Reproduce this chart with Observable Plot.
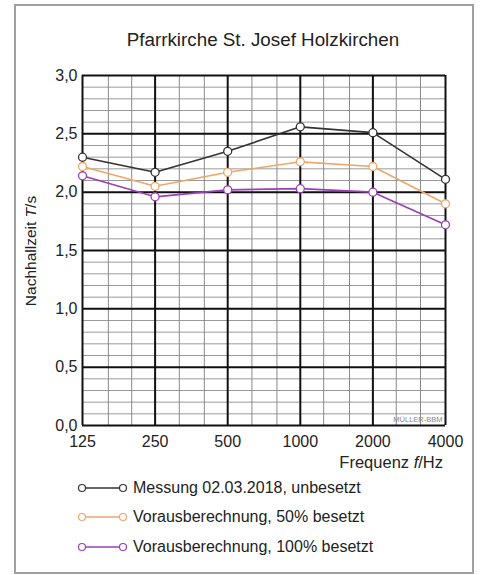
<!DOCTYPE html>
<html><head><meta charset="utf-8">
<script src="https://cdn.jsdelivr.net/npm/d3@7"></script>
<script src="https://cdn.jsdelivr.net/npm/@observablehq/plot@0.6"></script>
<style>
body{margin:0;background:#fff;font-family:"Liberation Sans",Arial,sans-serif;color:#222;}
#wrap{position:relative;width:482px;height:575px;overflow:hidden;}
#frame{position:absolute;left:14px;top:4px;width:456px;height:566px;border:2px solid #a0a0a0;}
#title{position:absolute;left:0;width:526px;top:29px;text-align:center;font-size:18.8px;line-height:22px;}
#chart{position:absolute;left:0;top:0;}
#ylab{position:absolute;left:31px;top:251px;transform:translate(-50%,-50%) rotate(-90deg);font-size:15.5px;white-space:nowrap;}
#xlab{position:absolute;right:39px;top:452px;font-size:16.5px;line-height:20px;white-space:nowrap;}
.leg{position:absolute;left:76px;font-size:16px;line-height:20px;white-space:nowrap;display:flex;align-items:center;}
.leg svg{margin-right:5px;}
</style></head>
<body><div id="wrap">
<div id="frame"></div>
<div id="chart"></div>
<div id="title">Pfarrkirche St. Josef Holzkirchen</div>
<div id="ylab">Nachhallzeit <i>T</i>/s</div>
<div id="xlab">Frequenz <i>f</i>/Hz</div>
<div id="legend"></div>
</div>
<script>
const freqs = [125, 250, 500, 1000, 2000, 4000];
const thirdOctaves = [160, 200, 315, 400, 630, 800, 1250, 1600, 2500, 3150];
const messung = [2.30, 2.17, 2.35, 2.56, 2.51, 2.11];
const voraus50 = [2.22, 2.05, 2.17, 2.26, 2.22, 1.90];
const voraus100 = [2.14, 1.96, 2.02, 2.03, 2.00, 1.72];
const yMajor = [0, 0.5, 1, 1.5, 2, 2.5, 3];
const yMinor = d3.range(0, 30).map(i => i / 10).filter(v => Math.round(v * 10) % 5 !== 0);
const seriesNames = ["Messung 02.03.2018, unbesetzt", "Vorausberechnung, 50% besetzt", "Vorausberechnung, 100% besetzt"];
const seriesColors = ["#333333", "#eea66a", "#9a3fb8"];
const seriesValues = [messung, voraus50, voraus100];

const rows = seriesValues.flatMap((vals, s) => vals.map((v, i) => ({f: freqs[i], t: v, s: seriesNames[s]})));
const colorScale = {domain: seriesNames, range: seriesColors};

const chart = Plot.plot({
  width: 482, height: 470,
  marginTop: 75, marginBottom: 45, marginLeft: 82, marginRight: 37,
  style: {fontFamily: '"Liberation Sans", Arial, sans-serif', fontSize: "16px", color: "#222", background: "transparent"},
  x: {type: "log", base: 2, domain: [125, 4000], ticks: freqs, tickFormat: d => String(d), tickSize: 0, tickPadding: 10, label: null},
  y: {domain: [0, 3], ticks: yMajor, tickFormat: d => d.toFixed(1).replace(".", ","), tickSize: 0, tickPadding: 5, label: null},
  color: colorScale,
  marks: [
    Plot.ruleY(yMinor, {stroke: "#9a9a9a", strokeWidth: 1}),
    Plot.ruleX(thirdOctaves, {stroke: "#8a8a8a", strokeWidth: 1}),
    Plot.ruleY(yMajor, {stroke: "#111", strokeWidth: 2}),
    Plot.ruleX(freqs, {stroke: "#111", strokeWidth: 2}),
    Plot.text(["MÜLLER-BBM"], {frameAnchor: "bottom-right", dx: -3, dy: -4, fontSize: 7.5, fill: "#888", textAnchor: "end"}),
    Plot.line(rows, {x: "f", y: "t", z: "s", stroke: "s", strokeWidth: 1.6}),
    Plot.dot(rows, {x: "f", y: "t", stroke: "s", fill: "white", r: 4, strokeWidth: 1.3})
  ]
});
document.getElementById("chart").appendChild(chart);

const legendY = [488, 517, 547];
const legend = document.getElementById("legend");
seriesNames.forEach((name, i) => {
  const div = document.createElement("div");
  div.className = "leg";
  div.style.top = (legendY[i] - 10) + "px";
  div.innerHTML = `<svg width="52" height="20"><line x1="6" y1="10" x2="47" y2="10" stroke="${seriesColors[i]}" stroke-width="1.6"/><circle cx="6" cy="10" r="3.5" fill="white" stroke="${seriesColors[i]}" stroke-width="1.2"/><circle cx="47" cy="10" r="3.5" fill="white" stroke="${seriesColors[i]}" stroke-width="1.2"/></svg><span>${name}</span>`;
  legend.appendChild(div);
});
</script>
</body></html>
